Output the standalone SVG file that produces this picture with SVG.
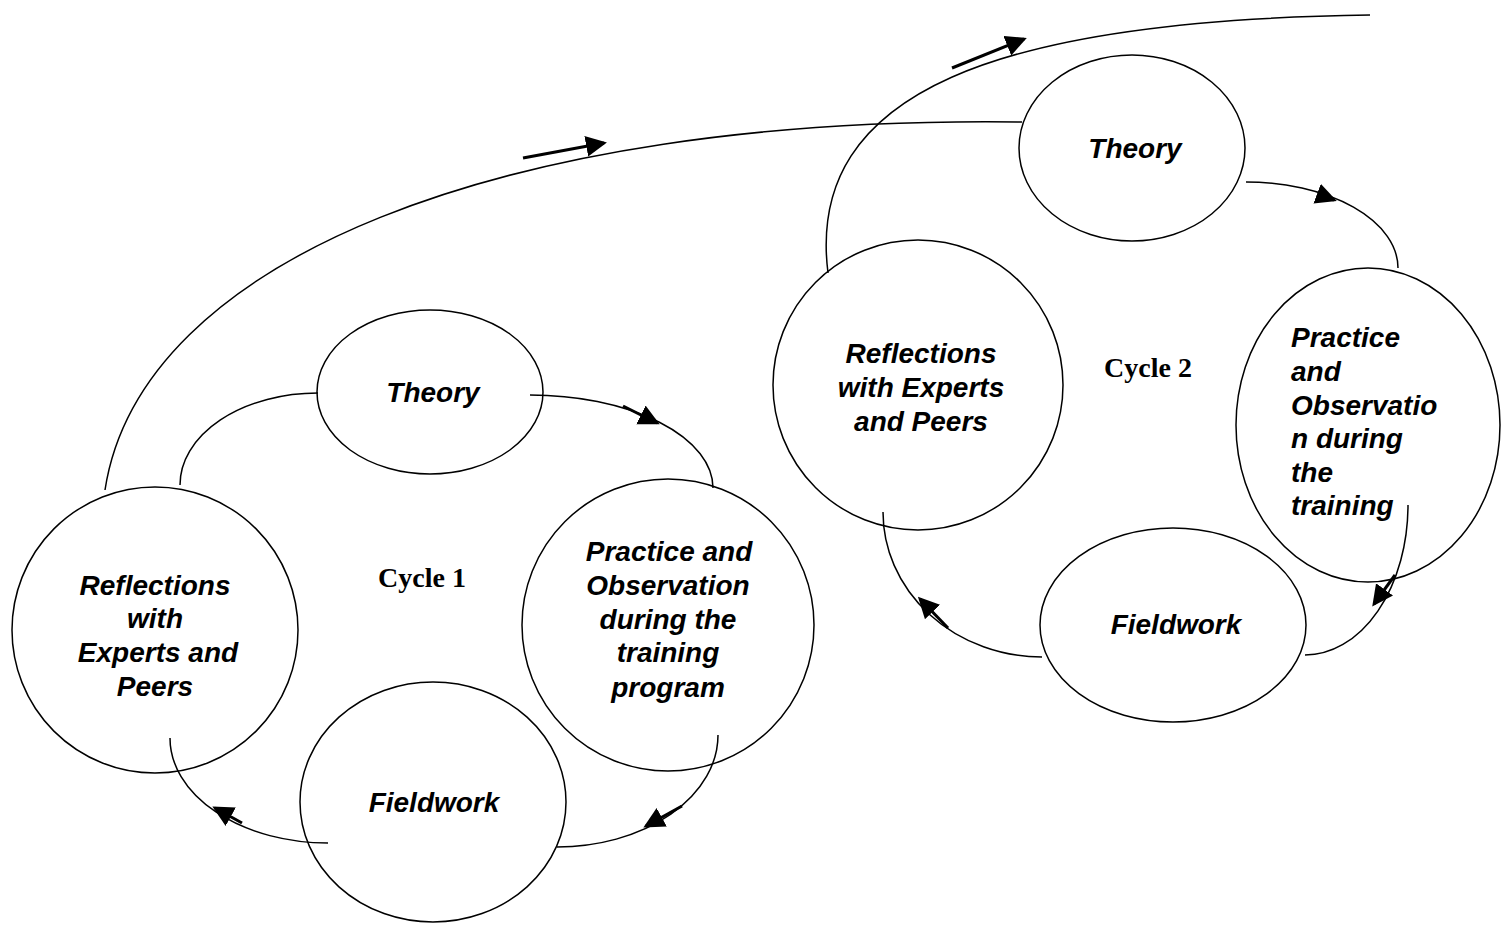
<svg xmlns="http://www.w3.org/2000/svg" width="1501" height="928" viewBox="0 0 1501 928">
<style>
.n{fill:#fff;stroke:#000;stroke-width:1.5}
.t{font-family:"Liberation Sans",Arial,sans-serif;font-weight:bold;font-style:italic;font-size:28px;text-anchor:middle}
.tl{text-anchor:start}
.c{font-family:"Liberation Serif","Times New Roman",serif;font-weight:bold;font-size:28px;text-anchor:middle}
.a{fill:none;stroke:#000;stroke-width:1.5}
.ar{fill:none;stroke:#000;stroke-width:3;marker-end:url(#h)}
</style>
<defs>
<marker id="h" markerWidth="8" markerHeight="8" refX="6" refY="3.5" orient="auto" markerUnits="strokeWidth">
<path d="M0,0 L7,3.5 L0,7 z" fill="#000"/>
</marker>
</defs>
<rect width="1501" height="928" fill="#fff"/>
<g id="c1-theory"><ellipse class="n" cx="430" cy="392" rx="113" ry="82"/><text class="t" x="433" y="402">Theory</text></g>
<g id="c1-reflections"><circle class="n" cx="155" cy="630" r="143"/><text class="t" x="155" y="595">Reflections</text><text class="t" x="155" y="628">with</text><text class="t" x="158" y="662">Experts and</text><text class="t" x="155" y="696">Peers</text></g>
<g id="c1-practice"><circle class="n" cx="668" cy="625" r="146"/><text class="t" x="669" y="561">Practice and</text><text class="t" x="668" y="595">Observation</text><text class="t" x="668" y="629">during the</text><text class="t" x="668" y="662">training</text><text class="t" x="668" y="697">program</text></g>
<g id="c1-fieldwork"><ellipse class="n" cx="433" cy="802" rx="133" ry="120"/><text class="t" x="434" y="812">Fieldwork</text></g>
<g id="c1-label"><text class="c" x="422" y="587">Cycle 1</text></g>
<g id="c2-theory"><ellipse class="n" cx="1132" cy="148" rx="113" ry="93"/><text class="t" x="1135" y="158">Theory</text></g>
<g id="c2-reflections"><circle class="n" cx="918" cy="385" r="145"/><text class="t" x="921" y="363">Reflections</text><text class="t" x="921" y="397">with Experts</text><text class="t" x="921" y="431">and Peers</text></g>
<g id="c2-practice"><ellipse class="n" cx="1368" cy="425" rx="132" ry="157"/><text class="t tl" x="1291" y="347">Practice</text><text class="t tl" x="1291" y="381">and</text><text class="t tl" x="1291" y="415">Observatio</text><text class="t tl" x="1291" y="448">n during</text><text class="t tl" x="1291" y="482">the</text><text class="t tl" x="1291" y="515">training</text></g>
<g id="c2-fieldwork"><ellipse class="n" cx="1173" cy="625" rx="133" ry="97"/><text class="t" x="1176" y="634">Fieldwork</text></g>
<g id="c2-label"><text class="c" x="1148" y="377">Cycle 2</text></g>
<g id="connectors">
<path class="a" d="M105,490 C140,260 500,115 1022,122"/>
<path class="a" d="M828,273 C805,90 1000,20 1370,15"/>
<path class="a" d="M180,485 A138,92 0 0 1 318,393"/>
<path class="a" d="M530,395 A183,93 0 0 1 713,488"/>
<path class="a" d="M718,735 A161,112 0 0 1 557,847"/>
<path class="a" d="M328,843 A158,105 0 0 1 170,738"/>
<path class="a" d="M1246,182 A152,86 0 0 1 1398,268"/>
<path class="a" d="M1408,505 A103,150 0 0 1 1305,655"/>
<path class="a" d="M1042,657 A159,145 0 0 1 883,512"/>
<line class="ar" x1="523" y1="158" x2="604" y2="143"/>
<line class="ar" x1="952" y1="68" x2="1024" y2="39"/>
<line class="ar" x1="623" y1="406" x2="657" y2="423"/>
<line class="ar" x1="682" y1="806" x2="646" y2="826"/>
<line class="ar" x1="242" y1="823" x2="215" y2="808"/>
<line class="ar" x1="1318" y1="194" x2="1334" y2="200"/>
<line class="ar" x1="1395" y1="575" x2="1374" y2="604"/>
<line class="ar" x1="948" y1="628" x2="920" y2="599"/>
</g>
</svg>
